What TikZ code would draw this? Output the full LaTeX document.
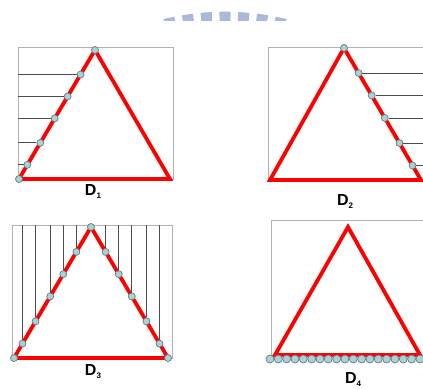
\documentclass[tikz,border=0pt]{standalone}
\usepackage{fontspec}
\setsansfont{Liberation Sans}
\usetikzlibrary{calc}

\definecolor{dotfill}{RGB}{172,208,214}
\definecolor{dotedge}{RGB}{92,128,134}
\definecolor{wmblue}{RGB}{170,184,218}

\newcommand{\sub}[1]{\raisebox{-3pt}{\fontsize{8}{8}\selectfont #1}}

\begin{document}
\begin{tikzpicture}[x=1pt, y=-1pt,
    box/.style={draw=gray!60, line width=0.9pt},
    tri/.style={draw=red, line width=3.8pt},
    dot/.style={circle, draw=dotedge, fill=dotfill, line width=0.7pt, inner sep=0pt, minimum size=7pt},
    hl/.style={draw=black!70, line width=0.8pt},
    lbl/.style={font=\sffamily\bfseries\fontsize{16}{16}\selectfont, inner sep=0pt},
    wmark/.style={draw=wmblue, line width=10pt, dash pattern=on 11pt off 7.5pt}
]
\useasboundingbox (0,0) rectangle (423,389);

% watermark at the top
\begin{scope}
\clip (140,0) rectangle (300,20.5);
\draw[wmark] (225,272) ++(-103.69:255.3) arc[start angle=-103.69, end angle=-76.31, radius=255.3];
\end{scope}

% D1 -- left side, horizontal lines
\coordinate (a1) at (19,179);
\coordinate (b1) at (95,50);
\coordinate (c1) at (170,179);
\coordinate (edge1) at (18,47);
\draw[box] (18,47) rectangle (173,179);
\draw[tri] (a1) -- (b1) -- (c1) -- cycle;
\node[dot] (d1a) at (a1) {};
\node[dot] (d1b) at (b1) {};
\foreach \t [count=\i] in {0.19,0.36,0.53,0.72,0.89} {
  \node[dot] (d1\i) at ($(b1)!\t!(a1)$) {};
  \draw[hl] (d1\i) -- (d1\i -| edge1);
}
\node[lbl] (lab1) at (93,191) {D\sub{1}};

% D2 -- right side, horizontal lines
\coordinate (a2) at (270,180);
\coordinate (b2) at (344,48);
\coordinate (c2) at (421,180);
\coordinate (edge2) at (423,47);
\draw[box] (268,47) rectangle (430,180);
\draw[tri] (a2) -- (b2) -- (c2) -- cycle;
\node[dot] (d2b) at (b2) {};
\foreach \t [count=\i] in {0.19,0.36,0.53,0.72,0.89} {
  \node[dot] (d2\i) at ($(b2)!\t!(c2)$) {};
  \draw[hl] (d2\i) -- (d2\i -| edge2);
}
\node[lbl] (lab2) at (345,201) {D\sub{2}};

% D3 -- both sides, vertical lines
\coordinate (a3) at (14,358);
\coordinate (b3) at (91,227);
\coordinate (c3) at (168,358);
\coordinate (edge3) at (12,225);
\draw[box] (12,225) rectangle (172,358);
\draw[tri] (a3) -- (b3) -- (c3) -- cycle;
\node[dot] (d3a) at (a3) {};
\node[dot] (d3b) at (b3) {};
\node[dot] (d3c) at (c3) {};
\foreach \t [count=\i] in {0.19,0.36,0.53,0.72,0.89} {
  \node[dot] (d3l\i) at ($(b3)!\t!(a3)$) {};
  \node[dot] (d3r\i) at ($(b3)!\t!(c3)$) {};
  \draw[hl] (d3l\i) -- (d3l\i |- edge3);
  \draw[hl] (d3r\i) -- (d3r\i |- edge3);
}
\node[lbl] (lab3) at (93,372) {D\sub{3}};

% D4 -- dots along the base
\coordinate (a4) at (275,355);
\coordinate (b4) at (348,227);
\coordinate (c4) at (420,355);
\draw[box] (271,220) rectangle (430,355);
\draw[tri] (a4) -- (b4) -- (c4) -- cycle;
\foreach \k in {0,...,18} {
  \node[dot, minimum size=8pt] (d4\k) at (270+\k*8.33,359) {};
}
\node[lbl] (lab4) at (353,379) {D\sub{4}};
\end{tikzpicture}
\end{document}
